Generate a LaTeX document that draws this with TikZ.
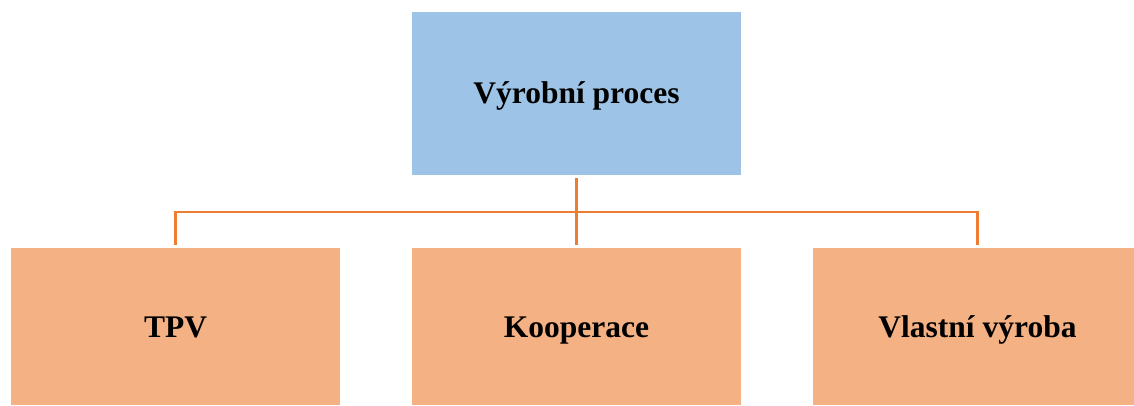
\documentclass[tikz,border=0pt]{standalone}
\usepackage{fontspec}
\setmainfont{Liberation Serif}
\definecolor{topblue}{HTML}{9DC3E6}
\definecolor{boxorange}{HTML}{F4B183}
\definecolor{lineorange}{HTML}{ED7D31}
\begin{document}
\begin{tikzpicture}[x=1pt,y=-1pt,
  box/.style={rectangle, draw=none, minimum width=329pt, inner sep=0pt,
    text depth=0pt, font=\fontsize{31.5}{36}\selectfont\bfseries},
  topbox/.style={box, fill=topblue, minimum height=163pt, text height=19pt},
  childbox/.style={box, fill=boxorange, minimum height=157pt, text height=22pt},
  conn/.style={draw=lineorange, line width=2.6pt, shorten <=3pt, shorten >=3pt}]
  \useasboundingbox (0,0) rectangle (1134,405);
  % parent and children
  \node[topbox] (proces) at (576.5,93.5) {Výrobní proces};
  \node[childbox] (tpv) at (175.5,326.5) {TPV};
  \node[childbox] (koop) at (576.5,326.5) {Kooperace};
  \node[childbox] (vlastni) at (977.5,326.5) {Vlastní výroba};
  % bus line joining the three children
  \coordinate (bus) at (576.5,212);
  \draw[conn] (proces.south) -- (koop.north);
  \draw[conn] (tpv.north) -- (tpv.north |- bus) -- (vlastni.north |- bus) -- (vlastni.north);
\end{tikzpicture}
\end{document}
